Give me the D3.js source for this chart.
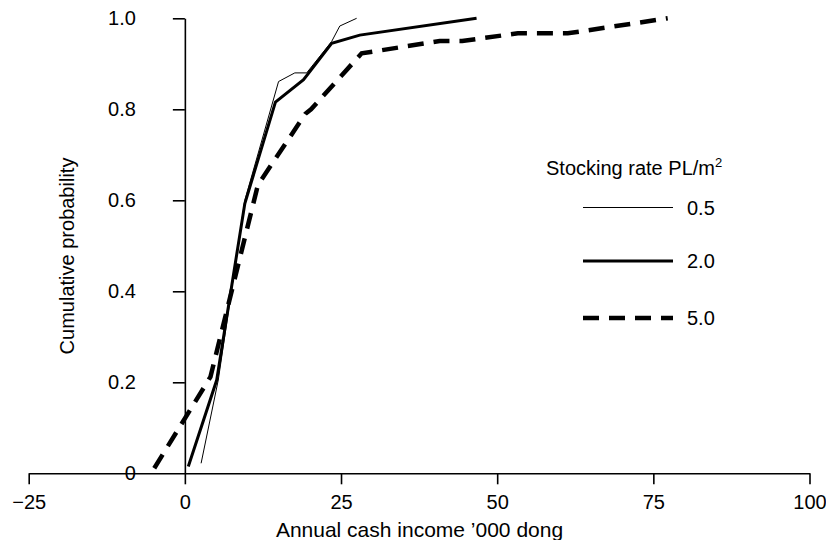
<!DOCTYPE html>
<html>
<head>
<meta charset="utf-8">
<script src="https://cdn.jsdelivr.net/npm/d3@7"></script>
<style>
  html, body { margin: 0; padding: 0; background: #fff; }
  text { font-family: "Liberation Sans", Arial, Helvetica, sans-serif; fill: #000; }
</style>
</head>
<body>
<svg id="chart" width="826" height="540"></svg>
<script>
// ---- data ----
const seriesNames = ["0.5", "2.0", "5.0"];
const income05 = [2.6, 5.35, 9.6, 15.0, 17.6, 19.5, 23.5, 24.8, 27.5];
const prob05   = [0.022, 0.205, 0.60, 0.861, 0.880, 0.880, 0.949, 0.983, 1.0];
const income20 = [0.55, 5.1, 9.6, 14.5, 19.0, 23.5, 28.0, 46.7];
const prob20   = [0.015, 0.205, 0.593, 0.816, 0.865, 0.945, 0.963, 1.0];
const income50 = [-4.9, 4.1, 11.7, 19.3, 20.2, 28.3, 40.8, 44.4, 53.3, 61.3, 77.3];
const prob50   = [0.011, 0.212, 0.634, 0.79, 0.80, 0.923, 0.95, 0.95, 0.967, 0.967, 1.0];
const xTicks = [-25, 0, 25, 50, 75, 100];
const yTicks = [0, 0.2, 0.4, 0.6, 0.8, 1.0];
const xTitle = "Annual cash income \u2019000 dong";
const yTitle = "Cumulative probability";
const legendTitle = "Stocking rate PL/m";

// ---- layout ----
const svg = d3.select("#chart");
const FS = 20;
const x = d3.scaleLinear().domain([-25, 100]).range([28.7, 809.5]);
const y = d3.scaleLinear().domain([0, 1]).range([473.3, 18.3]);

// x axis
const xAxis = d3.axisBottom(x).tickValues(xTicks).tickSize(11).tickSizeOuter(0).tickPadding(11)
  .tickFormat(d3.format("d"));
const gx = svg.append("g").attr("transform", `translate(0,${y(0)})`).call(xAxis);
gx.select(".domain").attr("stroke-width", 1.6);
gx.selectAll(".tick line").attr("stroke-width", 1.6);
gx.selectAll("text").attr("font-size", FS).attr("font-family", "Liberation Sans, Arial, sans-serif");

// y axis
const yAxis = d3.axisLeft(y).tickValues(yTicks).tickSize(12).tickSizeOuter(0).tickPadding(37)
  .tickFormat(d => d === 0 ? "0" : d3.format(".1f")(d));
const gy = svg.append("g").attr("transform", `translate(${x(0)},0)`).call(yAxis);
gy.select(".domain").attr("stroke-width", 1.6);
gy.selectAll(".tick line").attr("stroke-width", 1.6).filter(d => d === 0).remove();
gy.selectAll("text").attr("font-size", FS).attr("font-family", "Liberation Sans, Arial, sans-serif");

// axis titles
svg.append("text").attr("x", 419.5).attr("y", 537).attr("text-anchor", "middle")
  .attr("font-size", 21).text(xTitle);
svg.append("text").attr("transform", "translate(73.5,256) rotate(-90)").attr("text-anchor", "middle")
  .attr("font-size", FS).text(yTitle);

// series
const styles = [
  { w: 1, dash: null },
  { w: 3, dash: null },
  { w: 4.5, dash: "16,10" }
];
const seriesData = [
  income05.map((v, i) => [v, prob05[i]]),
  income20.map((v, i) => [v, prob20[i]]),
  income50.map((v, i) => [v, prob50[i]])
];
const line = d3.line().x(d => x(d[0])).y(d => y(d[1]));
seriesData.forEach((s, i) => {
  svg.append("path").datum(s).attr("d", line)
    .attr("fill", "none").attr("stroke", "#000")
    .attr("stroke-width", styles[i].w)
    .attr("stroke-dasharray", styles[i].dash);
});

// legend
const lt = svg.append("text").attr("x", 546).attr("y", 175).attr("font-size", FS).text(legendTitle);
lt.append("tspan").attr("font-size", 13).attr("dy", -8).text("2");
const legY = [207.5, 261, 318];
seriesNames.forEach((n, i) => {
  svg.append("line").attr("x1", 583).attr("x2", 673).attr("y1", legY[i]).attr("y2", legY[i])
    .attr("stroke", "#000").attr("stroke-width", styles[i].w)
    .attr("stroke-dasharray", styles[i].dash);
  svg.append("text").attr("x", 687).attr("y", legY[i]).attr("dy", "0.35em")
    .attr("font-size", FS).text(n);
});
</script>
</body>
</html>
